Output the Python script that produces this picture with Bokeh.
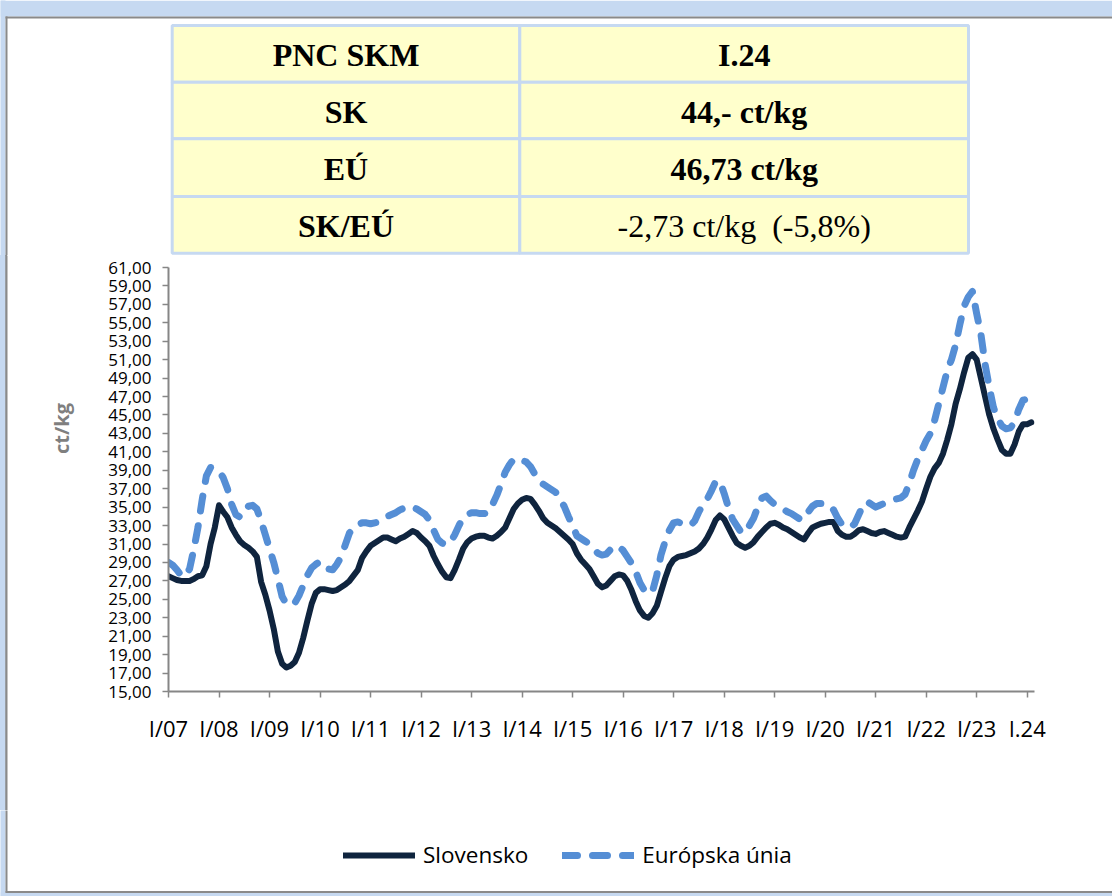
import math
from bokeh.plotting import figure
from bokeh.layouts import column, row
from bokeh.models import Range1d, FixedTicker, Legend
from bokeh.core.properties import value
from bokeh.embed import file_html
from bokeh.resources import INLINE

# ---------------- data ----------------
start_year = 2007
sk = [
    27.5, 27.3, 27.1, 27.0, 27.0, 27.0, 27.2, 27.5, 27.6, 28.6, 31.0, 32.8,   # 2007
    35.2, 34.5, 33.9, 32.8, 32.0, 31.3, 30.9, 30.6, 30.2, 29.6, 26.9, 25.5,   # 2008
    23.8, 21.8, 19.3, 18.0, 17.6, 17.8, 18.2, 19.2, 20.8, 22.7, 24.5, 25.7,   # 2009
    26.1, 26.1, 26.0, 25.9, 26.0, 26.3, 26.6, 27.0, 27.6, 28.2, 29.5, 30.2,   # 2010
    30.8, 31.1, 31.4, 31.7, 31.7, 31.5, 31.3, 31.6, 31.8, 32.1, 32.4, 32.2,   # 2011
    31.7, 31.3, 30.8, 29.7, 28.8, 28.0, 27.4, 27.3, 28.2, 29.3, 30.5, 31.2,   # 2012
    31.6, 31.8, 31.9, 31.9, 31.7, 31.6, 31.9, 32.3, 32.8, 33.8, 34.8, 35.4,   # 2013
    35.8, 36.0, 35.9, 35.3, 34.6, 33.8, 33.3, 33.0, 32.7, 32.3, 31.9, 31.5,   # 2014
    31.0, 30.0, 29.3, 28.8, 28.3, 27.5, 26.7, 26.3, 26.5, 27.0, 27.5, 27.7,   # 2015
    27.6, 27.0, 26.0, 24.8, 23.8, 23.2, 23.0, 23.5, 24.3, 25.8, 27.3, 28.6,   # 2016
    29.3, 29.6, 29.7, 29.8, 30.0, 30.2, 30.5, 31.0, 31.7, 32.6, 33.6, 34.1,   # 2017
    33.7, 32.8, 31.9, 31.1, 30.8, 30.6, 30.8, 31.2, 31.8, 32.3, 32.8, 33.2,   # 2018
    33.3, 33.1, 32.8, 32.6, 32.3, 32.0, 31.7, 31.5, 32.2, 32.8, 33.0, 33.2,   # 2019
    33.3, 33.4, 33.4, 32.4, 32.0, 31.8, 31.8, 32.1, 32.5, 32.6, 32.4, 32.2,   # 2020
    32.1, 32.3, 32.4, 32.2, 32.0, 31.8, 31.7, 31.8, 32.8, 33.7, 34.6, 35.6,   # 2021
    37.0, 38.3, 39.2, 39.8, 40.8, 42.3, 44.0, 46.2, 47.8, 49.6, 51.2, 51.6,   # 2022
    51.0, 49.0, 47.0, 45.0, 43.5, 42.3, 41.2, 40.8, 40.8, 41.8, 43.2, 44.0,   # 2023
    44.0, 44.2,                                                               # 2024
]
eu = [
    29.0, 28.7, 28.2, 27.6, 27.5, 28.3, 30.4, 32.8, 35.8, 38.4, 39.3, 39.2,   # 2007
    38.9, 38.2, 37.0, 35.3, 34.2, 33.9, 34.4, 35.1, 35.2, 34.8, 33.5, 32.0,   # 2008
    30.5, 29.0, 27.2, 25.3, 24.5, 24.4, 24.6, 25.4, 26.5, 27.6, 28.4, 28.8,   # 2009
    29.1, 28.8, 28.3, 28.2, 28.8, 29.6, 30.9, 32.2, 32.8, 33.1, 33.3, 33.3,   # 2010
    33.2, 33.3, 33.4, 33.6, 34.0, 34.2, 34.4, 34.7, 34.9, 35.1, 35.0, 34.8,   # 2011
    34.5, 34.2, 33.6, 32.5, 31.5, 31.1, 30.9, 31.2, 32.0, 33.0, 33.9, 34.2,   # 2012
    34.4, 34.4, 34.3, 34.3, 34.4, 35.3, 36.3, 37.5, 38.8, 39.6, 40.2, 40.3,   # 2013
    40.1, 39.9, 39.4, 38.6, 37.8, 37.5, 37.2, 36.9, 36.6, 35.8, 35.1, 34.0,   # 2014
    33.0, 31.9, 31.6, 31.3, 31.0, 30.5, 30.0, 29.8, 29.9, 30.4, 30.8, 30.7,   # 2015
    30.3, 29.6, 28.9, 28.0, 26.8, 26.0, 25.6, 25.9, 27.6, 29.8, 31.3, 32.5,   # 2016
    33.3, 33.4, 33.2, 33.1, 33.0, 33.5, 34.5, 35.3, 35.9, 36.8, 37.8, 37.8,   # 2017
    36.5, 35.0, 33.7, 33.0, 32.3, 32.2, 33.0, 33.8, 35.0, 36.0, 36.2, 35.7,   # 2018
    35.3, 35.1, 34.8, 34.5, 34.3, 34.0, 33.7, 33.7, 34.5, 35.1, 35.4, 35.4,   # 2019
    35.4, 35.2, 34.7, 33.8, 33.1, 32.9, 32.8, 33.2, 34.2, 35.2, 35.6, 35.3,   # 2020
    35.0, 35.2, 35.4, 35.6, 35.8, 35.9, 36.0, 36.4, 37.6, 39.0, 40.2, 41.2,   # 2021
    42.2, 43.0, 44.4, 46.2, 48.0, 49.8, 51.0, 52.6, 54.8, 56.8, 57.8, 58.4,   # 2022
    56.0, 53.8, 50.5, 48.0, 45.8, 44.6, 43.8, 43.5, 43.6, 44.2, 45.6, 46.6,   # 2023
    46.73,                                                                    # 2024
]
series_names = ["Slovensko", "Európska únia"]
year_ticks = list(range(2007, 2025))
year_labels = ["I/07", "I/08", "I/09", "I/10", "I/11", "I/12", "I/13", "I/14", "I/15",
               "I/16", "I/17", "I/18", "I/19", "I/20", "I/21", "I/22", "I/23", "I.24"]
y_ticks = list(range(15, 62, 2))
y_labels = [f"{t},00" for t in y_ticks]
y_title = "ct/kg"

table_left = ["PNC SKM", "SK", "EÚ", "SK/EÚ"]
table_right = ["I.24", "44,- ct/kg", "46,73 ct/kg", "-2,73 ct/kg \u00a0(-5,8%)"]

x_sk = [start_year + i / 12 for i in range(len(sk))]
x_eu = [start_year + i / 12 for i in range(len(eu))]

# ---------------- layout constants (page pixels) ----------------
W, H = 1112, 896
TOP_H = 255                  # table strip: 0..255
MID_Y0, MID_Y1 = 255, 810    # chart strip
BOT_H = H - MID_Y1           # legend strip
LAB_W = 88                   # y-title strip width
FR_L, FR_R, FR_T, FR_B = 168, 1034, 267, 691   # plot frame on the page
C_SK = "#0F243E"
C_EU = "#558ED5"
C_AX = "#868686"
C_FRAME = "#8A8A8A"
C_BAND = "#C6D9F1"
EU_DASH = "15 15"


def no_align(f):
    try:
        f.frame_align = False
    except Exception:
        pass


def blank(w, h, y0, y1, opaque=True):
    f = figure(width=w, height=h, output_backend="svg", toolbar_location=None,
               x_range=Range1d(0, w), y_range=Range1d(y1, y0),
               x_axis_location=None, y_axis_location=None,
               min_border=0, min_border_left=0, min_border_right=0,
               min_border_top=0, min_border_bottom=0)
    f.xgrid.visible = False
    f.ygrid.visible = False
    f.outline_line_color = None
    if opaque:
        f.background_fill_color = "white"
        f.border_fill_color = "white"
    else:
        f.background_fill_alpha = 0
        f.border_fill_alpha = 0
    no_align(f)
    return f


def left_edge(f, y0, y1):
    # outer frame: light band + grey line on the left
    f.quad(left=[-2], right=[5], top=[y0 - 2], bottom=[y1 + 2], fill_color=C_BAND,
           line_color=None)
    f.quad(left=[5], right=[7], top=[max(y0, 16) - 1], bottom=[min(y1, 892) + 1],
           fill_color=C_FRAME, line_color=None)


# ---------------- top: table ----------------
top = blank(W, TOP_H, 0, TOP_H)
left_edge(top, 0, TOP_H)
top.quad(left=[0], right=[W], top=[0], bottom=[16], fill_color=C_BAND, line_color=None)
top.quad(left=[5], right=[W], top=[16], bottom=[18], fill_color=C_FRAME, line_color=None)

col_x = [171.7, 519.3, 968.0]
row_y = [25.0, 81.7, 138.3, 196.0, 252.7]
lefts, rights, tops, bottoms = [], [], [], []
for i in range(4):
    for j in range(2):
        lefts.append(col_x[j]); rights.append(col_x[j + 1])
        tops.append(row_y[i]); bottoms.append(row_y[i + 1])
top.quad(left=lefts, right=rights, top=tops, bottom=bottoms,
         fill_color="#FFFFCC", line_color=C_BAND, line_width=3)

cy = [(row_y[i] + row_y[i + 1]) / 2 + 1 for i in range(4)]
tfont = dict(text_font=value("Liberation Serif"), text_font_size=value("32px"),
             text_align=value("center"), text_baseline=value("middle"),
             text_color="black")
top.text(x=[(col_x[0] + col_x[1]) / 2] * 4, y=cy, text=table_left,
         text_font_style=value("bold"), **tfont)
top.text(x=[(col_x[1] + col_x[2]) / 2] * 3, y=cy[:3], text=table_right[:3],
         text_font_style=value("bold"), **tfont)
top.text(x=[(col_x[1] + col_x[2]) / 2], y=cy[3:], text=table_right[3:],
         text_font_style=value("normal"), **tfont)

# ---------------- left strip: y title ----------------
lab = blank(LAB_W, MID_Y1 - MID_Y0, MID_Y0, MID_Y1, opaque=False)
left_edge(lab, MID_Y0, MID_Y1)
lab.text(x=[61], y=[428], text=[y_title], angle=math.pi / 2,
         text_font=value("Open Sans"), text_font_style=value("bold"),
         text_font_size=value("20px"), text_align=value("center"),
         text_baseline=value("middle"), text_color="#7F7F7F")

# ---------------- main chart ----------------
p = figure(width=W - LAB_W, height=MID_Y1 - MID_Y0, output_backend="svg",
           toolbar_location=None,
           x_range=Range1d(2007, 2024.145), y_range=Range1d(15, 61),
           min_border_left=FR_L - LAB_W, min_border_right=W - FR_R,
           min_border_top=FR_T - MID_Y0, min_border_bottom=MID_Y1 - FR_B)
no_align(p)
p.xgrid.visible = False
p.ygrid.visible = False
p.outline_line_color = None
p.background_fill_color = "white"
p.border_fill_color = "white"

p.yaxis.ticker = FixedTicker(ticks=y_ticks)
p.yaxis.major_label_overrides = {t: l for t, l in zip(y_ticks, y_labels)}
p.xaxis.ticker = FixedTicker(ticks=year_ticks)
p.xaxis.major_label_overrides = {t: l for t, l in zip(year_ticks, year_labels)}
for ax in (p.xaxis[0], p.yaxis[0]):
    ax.axis_line_color = C_AX
    ax.axis_line_width = 2
    ax.major_tick_line_color = C_AX
    ax.major_tick_line_width = 1.5
    ax.minor_tick_line_color = None
    ax.major_tick_in = 0
    ax.major_tick_out = 6
    ax.major_label_text_font = "Open Sans"
    ax.major_label_text_color = "black"
p.yaxis.major_label_text_font_size = "17px"
p.yaxis.major_label_standoff = 11
p.xaxis.major_label_text_font_size = "22px"
p.xaxis.major_label_standoff = 15

p.line(x_sk, sk, line_color=C_SK, line_width=6, line_join="round", line_cap="round")
p.line(x_eu, eu, line_color=C_EU, line_width=7, line_dash=EU_DASH,
       line_join="round", line_cap="round")

# ---------------- bottom: legend ----------------
bot = blank(W, BOT_H, MID_Y1, H)
left_edge(bot, MID_Y1, H)
bot.quad(left=[0], right=[W], top=[892], bottom=[H], fill_color=C_BAND, line_color=None)
bot.quad(left=[5], right=[W], top=[890.5], bottom=[892.5], fill_color=C_FRAME,
         line_color=None)
lg_sk = bot.line([-60, -40], [850, 850], line_color=C_SK, line_width=6,
                 line_cap="round")
lg_eu = bot.line([-60, -40], [850, 850], line_color=C_EU, line_width=7,
                 line_dash=EU_DASH, line_cap="round")
legend = Legend(items=[(series_names[0], [lg_sk]), (series_names[1], [lg_eu])],
                orientation="horizontal", location=(343, 26),
                glyph_width=72, glyph_height=26, label_height=26,
                label_standoff=8, spacing=34, padding=0, margin=0,
                border_line_color=None, background_fill_alpha=0,
                label_text_font="Open Sans", label_text_font_size="22.5px",
                label_text_color="black")
bot.add_layout(legend, "center")

mid = row(lab, p)
mid.styles = {"box-shadow": "inset 5px 0 0 #C6D9F1, inset 7px 0 0 #8A8A8A",
              "background-color": "white"}
layout = column(top, mid, bot)
open("out.html", "w").write(file_html(layout, INLINE))
